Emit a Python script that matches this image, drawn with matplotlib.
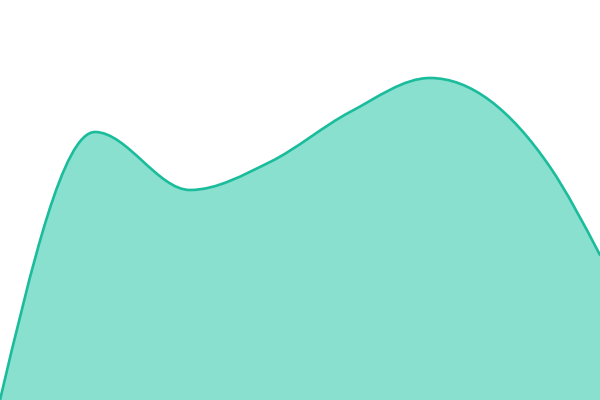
import numpy as np
import matplotlib.pyplot as plt
from matplotlib.path import Path
from matplotlib.patches import PathPatch

# points (x in px across, y = height above bottom)
xs = [0, 95, 190, 270, 350, 430, 550, 600]
ys = [0, 268, 210, 238, 288, 322, 233, 145]


def monotone_tangents(x, y):
    x = np.asarray(x, float)
    y = np.asarray(y, float)
    n = len(x)
    t = np.zeros(n)
    for i in range(1, n - 1):
        h0 = x[i] - x[i - 1]
        h1 = x[i + 1] - x[i]
        s0 = (y[i] - y[i - 1]) / h0
        s1 = (y[i + 1] - y[i]) / h1
        p = (s0 * h1 + s1 * h0) / (h0 + h1)
        t[i] = (np.sign(s0) + np.sign(s1)) * min(abs(s0), abs(s1), 0.5 * abs(p))
    h = x[1] - x[0]
    t[0] = (3 * (y[1] - y[0]) / h - t[1]) / 2
    h = x[-1] - x[-2]
    t[-1] = (3 * (y[-1] - y[-2]) / h - t[-2]) / 2
    return t


def curve_path(x, y, close=False):
    t = monotone_tangents(x, y)
    verts = [(x[0], y[0])]
    codes = [Path.MOVETO]
    for i in range(len(x) - 1):
        dx = (x[i + 1] - x[i]) / 3
        verts += [(x[i] + dx, y[i] + dx * t[i]),
                  (x[i + 1] - dx, y[i + 1] - dx * t[i + 1]),
                  (x[i + 1], y[i + 1])]
        codes += [Path.CURVE4] * 3
    if close:
        verts += [(x[-1], 0), (x[0], 0), (x[0], y[0])]
        codes += [Path.LINETO, Path.LINETO, Path.CLOSEPOLY]
    return Path(verts, codes)


fig = plt.figure(figsize=(6, 4), dpi=100)
ax = fig.add_axes([0, 0, 1, 1])

ax.add_patch(PathPatch(curve_path(xs, ys, close=True), facecolor='#89e0cf',
                       edgecolor='none'))
ax.add_patch(PathPatch(curve_path(xs, ys), facecolor='none',
                       edgecolor='#1abc9c', linewidth=1.9, capstyle='round'))

ax.set_xlim(0, 600)
ax.set_ylim(0, 400)
ax.axis('off')

fig.savefig('out.png', dpi=100)
